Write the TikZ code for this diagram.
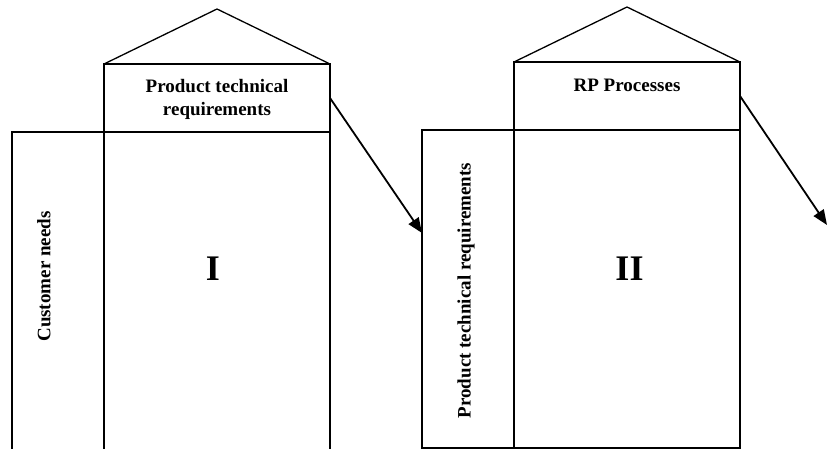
\documentclass[tikz,border=0pt]{standalone}
\usepackage{fontspec}
\setmainfont{Liberation Serif}
\usetikzlibrary{arrows.meta,positioning}

\tikzset{
  box/.style={draw, inner sep=0pt, outer sep=0pt},
  area/.style={inner sep=0pt, outer sep=0pt},
  lbl/.style={font=\bfseries\fontsize{19}{23}\selectfont, align=center, inner sep=0pt},
  side/.style={lbl, rotate=90},
  num/.style={font=\bfseries\fontsize{36}{40}\selectfont, inner sep=0pt},
  arr/.style={line width=1.8pt, -{Triangle[length=15pt,width=12pt]}}
}

\begin{document}
\begin{tikzpicture}[x=1pt,y=-1pt,line width=1.3pt]
    \useasboundingbox (0,0) rectangle (827,449);
    % house I
    \coordinate (peak1) at (217,9);
    \node [box, minimum width=226pt, minimum height=68pt] (top1) at (217,98) {};
    \node [area, minimum width=92pt, minimum height=317pt] (need1) at (58,290.5) {};
    \node [area, minimum width=226pt, minimum height=317pt] (mat1) at (217,290.5) {};
    \draw (top1.north west) -- (peak1) -- (top1.north east);
    \draw (need1.south west) -- (need1.north west) -- (mat1.north east) -- (mat1.south east);
    \draw (mat1.north west) -- (mat1.south west);
    \node [lbl] (top1txt) at (217,99) {Product technical\\requirements};
    \node [side] (need1txt) at (44,276.5) {Customer needs};
    \node [num] (one) at (213,269) {I};
    % house II
    \coordinate (peak2) at (627,7);
    \node [box, minimum width=226pt, minimum height=68pt] (top2) at (627,96) {};
    \node [box, minimum width=92pt, minimum height=318pt] (need2) at (468,289) {};
    \node [box, minimum width=226pt, minimum height=318pt] (mat2) at (627,289) {};
    \draw (top2.north west) -- (peak2) -- (top2.north east);
    \node [lbl] (top2txt) at (627,85) {RP Processes};
    \node [side] (need2txt) at (466,290.5) {Product technical requirements};
    \node [num] (two) at (629.5,269) {II};
    % arrows
    \coordinate (in2) at (422,233);
    \coordinate (next) at (827,225);
    \draw [arr] (top1.east) -- (in2);
    \draw [arr] (top2.east) -- (next);
\end{tikzpicture}
\end{document}
